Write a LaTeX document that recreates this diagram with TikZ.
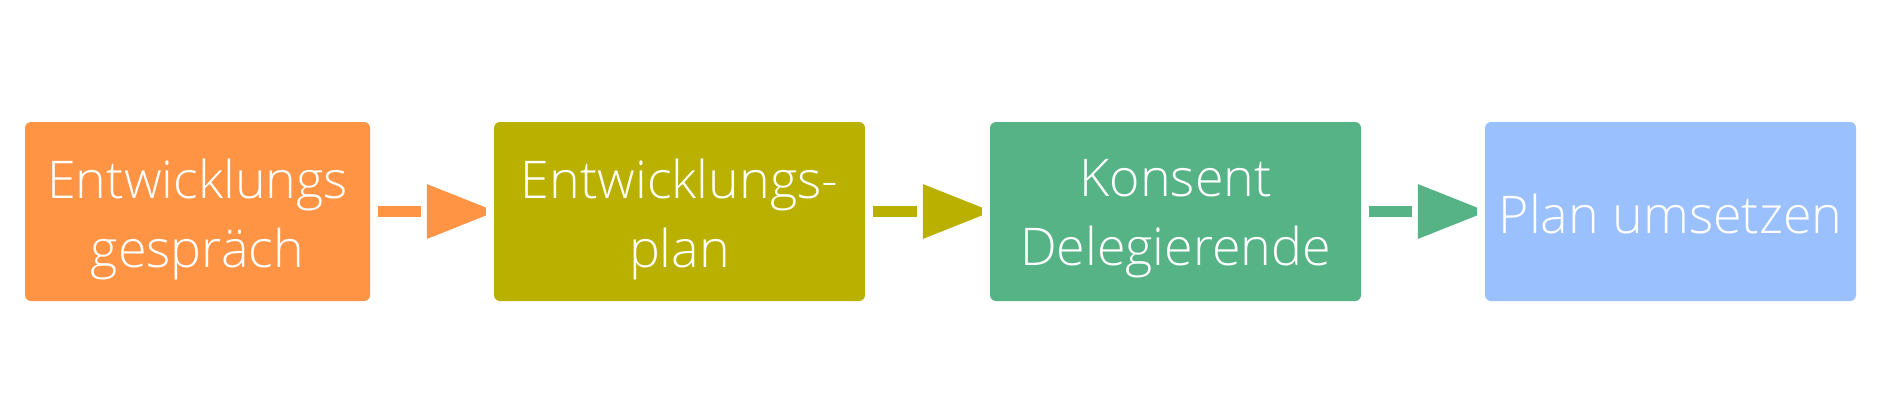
\documentclass[tikz,border=0pt]{standalone}
\usepackage{fontspec}
\setmainfont{Open Sans}[UprightFont=* Light]
\definecolor{corange}{HTML}{FF9445}
\definecolor{colive}{HTML}{BAB000}
\definecolor{cgreen}{HTML}{56B386}
\definecolor{cblue}{HTML}{9BC0FE}
\tikzset{
  stepbox/.style={rounded corners=6pt, minimum height=179pt, inner sep=0pt},
  steptext/.style={inner sep=0pt, text=white, align=center, font=\fontsize{52}{69}\selectfont},
  shaft/.style={line width=11pt}
}
\begin{document}
\begin{tikzpicture}[x=1pt,y=-1pt]
\useasboundingbox (0,0) rectangle (1886,408);
\node[stepbox, fill=corange, minimum width=345pt] (b1) at (197.5,211.5) {};
\node[stepbox, fill=colive, minimum width=371pt] (b2) at (679.5,211.5) {};
\node[stepbox, fill=cgreen, minimum width=371pt] (b3) at (1175.5,211.5) {};
\node[stepbox, fill=cblue, minimum width=371pt] (b4) at (1670.5,211.5) {};
\node[steptext] (t1) at ([yshift=-7.5pt]b1.center) {Entwicklungs\\gespräch};
\node[steptext] (t2) at ([yshift=-7.5pt]b2.center) {Entwicklungs-\\plan};
\node[steptext] (t3) at ([yshift=-7.5pt]b3.center) {Konsent\\Delegierende};
\node[steptext] (t4) at ([yshift=-2pt]b4.center) {Plan umsetzen};
\foreach \a/\b/\c in {b1/b2/corange, b2/b3/colive, b3/b4/cgreen}{
  \draw[shaft, \c] ([xshift=8pt]\a.east) -- ([xshift=-73pt]\b.west);
  \fill[\c] ([xshift=-67pt,yshift=27.5pt]\b.west) -- ([xshift=-8pt,yshift=4pt]\b.west)
     -- ([xshift=-8pt,yshift=-4pt]\b.west) -- ([xshift=-67pt,yshift=-27.5pt]\b.west) -- cycle;
}
\end{tikzpicture}
\end{document}
